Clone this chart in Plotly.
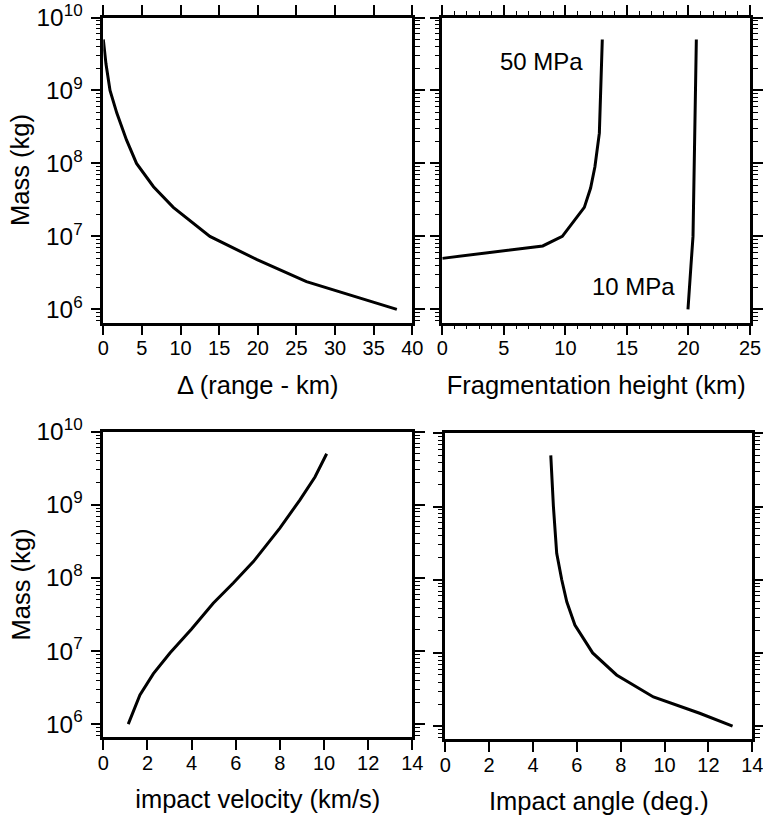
import plotly.graph_objects as go

# ---- data ----
range_km = [0.0, 0.35, 0.87, 1.75, 3.0, 4.3, 6.5, 9.06, 13.8, 19.9, 26.3, 29.8, 38.0]
range_mass = [5e9, 2.3e9, 1e9, 4.9e8, 2.1e8, 1e8, 4.8e7, 2.5e7, 1e7, 4.8e6, 2.4e6, 1.85e6, 1e6]

frag50_km = [13.0, 12.9, 12.76, 12.4, 12.05, 11.54, 9.75, 8.16, 0.0]
frag50_mass = [5e9, 1e9, 2.6e8, 9e7, 4.6e7, 2.5e7, 1e7, 7.4e6, 5e6]

frag10_km = [20.64, 20.56, 20.45, 20.37, 20.2, 19.96]
frag10_mass = [5e9, 7.4e8, 4.8e7, 1e7, 3.9e6, 1e6]

vel_kms = [1.13, 1.66, 2.27, 3.02, 4.0, 4.98, 5.89, 6.8, 8.0, 8.91, 9.59, 10.12]
vel_mass = [1e6, 2.5e6, 4.9e6, 9.4e6, 2e7, 4.5e7, 8.5e7, 1.67e8, 4.8e8, 1.17e9, 2.4e9, 5e9]

angle_deg = [4.81, 4.93, 5.08, 5.31, 5.54, 5.91, 6.72, 7.81, 9.49, 11.6, 13.1]
angle_mass = [5e9, 1e9, 2.3e8, 1e8, 5e7, 2.4e7, 1e7, 5e6, 2.5e6, 1.5e6, 1e6]

labels = ["50 MPa", "10 MPa"]
label_pos = [(8.1, 9.395), (15.5, 6.31)]
y_title = "Mass (kg)"

FONT = "Liberation Sans, Arial, Helvetica, sans-serif"
LINE = dict(color="black", width=3)

W, H = 763, 817


def px_x(p):
    return p / W


def px_y(p):
    return 1 - p / H


fig = go.Figure()
fig.add_trace(go.Scatter(x=range_km, y=range_mass, mode="lines", line=LINE, xaxis="x", yaxis="y"))
fig.add_trace(go.Scatter(x=frag50_km, y=frag50_mass, mode="lines", line=LINE, xaxis="x2", yaxis="y2"))
fig.add_trace(go.Scatter(x=frag10_km, y=frag10_mass, mode="lines", line=LINE, xaxis="x2", yaxis="y2"))
fig.add_trace(go.Scatter(x=vel_kms, y=vel_mass, mode="lines", line=LINE, xaxis="x3", yaxis="y3"))
fig.add_trace(go.Scatter(x=angle_deg, y=angle_mass, mode="lines", line=LINE, xaxis="x4", yaxis="y4"))


def xax(domain, rng, dtick, anchor, title, mirror, minor=None):
    d = dict(domain=domain, range=rng, dtick=dtick, tick0=0, anchor=anchor,
             automargin=False, ticklabeloverflow="allow",
             showline=True, linewidth=2.5, linecolor="black", mirror=mirror,
             ticks="outside", ticklen=10, tickwidth=1.5, tickcolor="black",
             showgrid=False, zeroline=False,
             tickfont=dict(family=FONT, size=20, color="black"),
             title=dict(text=title, font=dict(family=FONT, size=25.5, color="black"), standoff=18),
             ticklabelstandoff=-4)
    if minor:
        d["minor"] = minor
    return d


def yax(domain, anchor, showlabels):
    return dict(domain=domain, type="log", range=[5.82, 10.0001], dtick=1, anchor=anchor,
                automargin=False, ticklabeloverflow="allow",
                exponentformat="power", showexponent="all",
                showline=True, linewidth=2.5, linecolor="black", mirror="ticks",
                ticks="outside", ticklen=10, tickwidth=1.5, tickcolor="black",
                minor=dict(dtick="D1", ticks="outside", ticklen=5, tickwidth=1.2, tickcolor="black", showgrid=False),
                showgrid=False, zeroline=False, showticklabels=showlabels,
                tickfont=dict(family=FONT, size=19.5, color="black"),
                ticklabelstandoff=4)


top_y = [px_y(322.5), px_y(17.5)]
bl_y = [px_y(737.3), px_y(431.7)]
br_y = [px_y(739.3), px_y(433.3)]
left_x = [px_x(103.3), px_x(412.3)]
tr_x = [px_x(442.3), px_x(750)]
br_x = [px_x(445.3), px_x(752.3)]

minor_frag = dict(dtick=1, ticks="outside", ticklen=4, tickwidth=1.2, tickcolor="black", showgrid=False)

fig.update_layout(
    width=W, height=H,
    margin=dict(l=0, r=0, t=0, b=0, autoexpand=False),
    paper_bgcolor="white", plot_bgcolor="white",
    showlegend=False,
    font=dict(family=FONT, color="black"),
    xaxis=xax(left_x, [0, 40], 5, "y", "Δ (range - km)", "ticks"),
    yaxis=yax(top_y, "x", True),
    xaxis2=xax(tr_x, [0, 25], 5, "y2", "Fragmentation height (km)", "ticks", minor_frag),
    yaxis2=yax(top_y, "x2", False),
    xaxis3=xax(left_x, [0, 14], 2, "y3", "impact velocity (km/s)", True),
    yaxis3=yax(bl_y, "x3", True),
    xaxis4=xax(br_x, [0, 14], 2, "y4", "Impact angle (deg.)", True),
    yaxis4=yax(br_y, "x4", False),
)

for txt, (lx, ly) in zip(labels, label_pos):
    fig.add_annotation(x=lx, y=ly, xref="x2", yref="y2", text=txt, showarrow=False,
                       font=dict(family=FONT, size=24, color="black"))

# y-axis titles of the left column
for dom in (top_y, bl_y):
    fig.add_annotation(x=px_x(20), y=(dom[0] + dom[1]) / 2, xref="paper", yref="paper",
                       text=y_title, textangle=-90, showarrow=False,
                       xanchor="center", yanchor="middle",
                       font=dict(family=FONT, size=25.5, color="black"))

# remove the browser's default 8px body margin so the figure fills the window exactly
fig.write_html("out.html", config={"displayModeBar": False},
               post_script="document.body.style.margin='0px';")
